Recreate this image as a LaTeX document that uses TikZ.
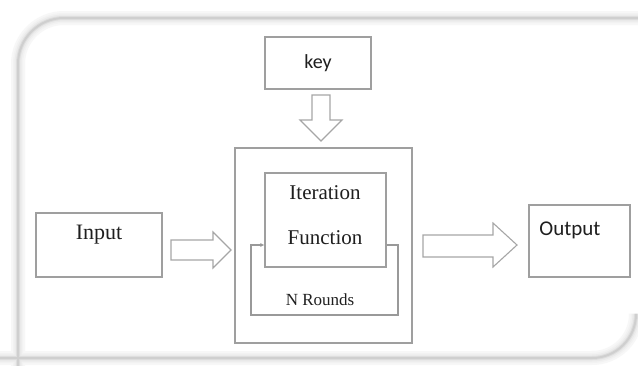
\documentclass[tikz,border=0pt]{standalone}
\usepackage{fontspec}
\setmainfont{Liberation Serif}
\newfontfamily\calib{Carlito}
\usetikzlibrary{arrows.meta}
\begin{document}
\begin{tikzpicture}[x=1pt,y=-1pt,
  box/.style={draw=gray!75,line width=1.1pt,inner sep=0pt},
  blockarrow/.style={draw=gray!70,line width=1.1pt,fill=white,line join=miter},
  loopline/.style={draw=gray!80,line width=1.1pt},
  label/.style={text=black!88}]
\useasboundingbox (0,0) rectangle (638,365);
\fill[white] (0,0) rectangle (638,365);
% soft frame with rounded diagonal corners
\foreach \w/\c in {14/6,10/10,7/16,4/26,2/38}{
  \draw[line width=\w pt,gray!\c] (18,370) -- (18,64) arc[start angle=180,end angle=270,radius=46] -- (650,18);
  \draw[line width=\w pt,gray!\c] (-5,358) -- (592,358) arc[start angle=90,end angle=0,radius=44] -- (636,318);
}
% key
\node[box,minimum width=106pt,minimum height=52pt] (key) at (318,63) {};
\node[label,font=\calib\fontsize{20}{22}\selectfont] (keyt) at (key.center) {key};
\draw[blockarrow] (312,95) -- (330,95) -- (330,120) -- (342,120) -- (321,141) -- (300,120) -- (312,120) -- cycle;
% outer block
\node[box,minimum width=177pt,minimum height=195pt] (outer) at (323.5,245.5) {};
\node[box,minimum width=121pt,minimum height=94pt] (func) at (325.5,220) {};
\node[label,font=\fontsize{21}{23}\selectfont] (it) at (325,193) {Iteration};
\node[label,font=\fontsize{21}{23}\selectfont] (fn) at (325,238) {Function};
\node[label,font=\fontsize{17}{19}\selectfont] (nr) at (320,300) {N Rounds};
\coordinate (lo) at (func.east |- 0,245);
\coordinate (li) at (func.west |- 0,245);
\draw[loopline,-{Latex[length=4pt,width=4pt]}] (lo) -- (398,245) -- (398,315) -- (251,315) -- (251,245) -- (li);
% input
\node[box,minimum width=126pt,minimum height=64pt] (input) at (99,245) {};
\node[label,font=\fontsize{22}{24}\selectfont] (int) at (99,235) {Input};
\draw[blockarrow] (171,240) -- (213,240) -- (213,232) -- (231,250) -- (213,268) -- (213,260) -- (171,260) -- cycle;
% output
\node[box,minimum width=101pt,minimum height=72pt] (output) at (579.5,241) {};
\node[label,font=\calib\fontsize{21}{23}\selectfont] (outt) at (570,230) {Output};
\draw[blockarrow] (423,235) -- (493,235) -- (493,223) -- (517,245) -- (493,267) -- (493,257) -- (423,257) -- cycle;
\end{tikzpicture}
\end{document}
